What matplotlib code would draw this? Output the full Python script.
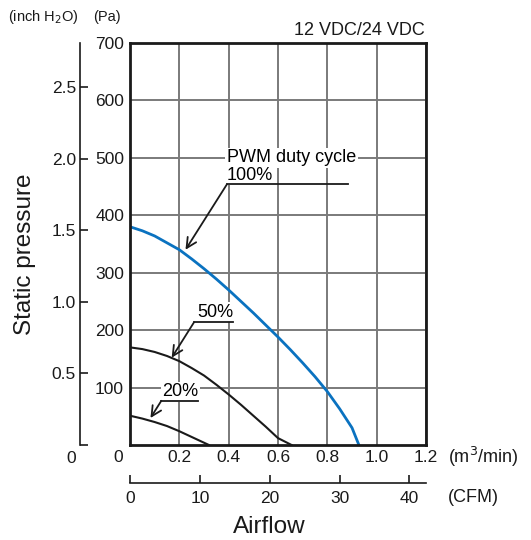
import matplotlib
matplotlib.use("Agg")
import matplotlib.pyplot as plt
import matplotlib.transforms as mtransforms

plt.rcParams['font.family'] = ['Liberation Sans', 'DejaVu Sans']

# Data (airflow m3/min, static pressure Pa)
flow_100 = [0.0, 0.05, 0.1, 0.15, 0.2, 0.25, 0.3, 0.35, 0.4, 0.45, 0.5, 0.55, 0.6,
            0.65, 0.7, 0.75, 0.8, 0.85, 0.9, 0.928]
pres_100 = [380, 373, 364, 352, 340, 324, 307, 289, 270, 250, 230, 209, 188,
            166, 143, 119, 93, 63, 30, 0]
flow_50 = [0.0, 0.05, 0.1, 0.15, 0.2, 0.25, 0.3, 0.35, 0.4, 0.45, 0.5, 0.55, 0.6, 0.655]
pres_50 = [170, 167, 162, 155, 146, 134, 121, 105, 88, 70, 51, 32, 12, 0]
flow_20 = [0.0, 0.05, 0.1, 0.15, 0.2, 0.25, 0.3, 0.32]
pres_20 = [51, 46, 40, 33, 24, 14, 4, 0]

x_ticks = [0.2, 0.4, 0.6, 0.8, 1.0, 1.2]
pa_ticks = [100, 200, 300, 400, 500, 600, 700]
inch_ticks = [0.0, 0.5, 1.0, 1.5, 2.0, 2.5]
cfm_ticks = [0, 10, 20, 30, 40]

PA_PER_INCH = 249.089
M3MIN_PER_CFM = 0.0283168

W, H = 531, 540
PX = 72 / 100  # points per pixel at dpi 100
fig = plt.figure(figsize=(W/100, H/100), dpi=100)
ax = fig.add_axes([130/W, 95/H, 296/W, 402/H])
ax.set_xlim(0, 1.2)
ax.set_ylim(0, 700)

grid_c = '#7a7a7a'
ink = '#1a1a1a'
ax.set_xticks([0.0] + x_ticks)
ax.set_xticklabels(['0'] + [f'{v:.1f}' for v in x_ticks])
ax.set_yticks(pa_ticks)
ax.set_yticklabels([str(v) for v in pa_ticks])
ax.grid(True, color=grid_c, linewidth=1.4)
ax.tick_params(axis='both', length=0, labelsize=12.5, colors=ink)
ax.tick_params(axis='x', pad=5 * PX)
ax.tick_params(axis='y', pad=6 * PX)
for s in ax.spines.values():
    s.set_linewidth(2.0)
    s.set_color(ink)
    s.set_zorder(5)

# shift x "0" label left
lbl0 = ax.get_xticklabels()[0]
lbl0.set_transform(lbl0.get_transform() + mtransforms.ScaledTranslation(-12/100, 0, fig.dpi_scale_trans))

# curves
ax.plot(flow_100, pres_100, color='#0a72c0', linewidth=2.0, zorder=4)
ax.plot(flow_50, pres_50, color=ink, linewidth=1.5, zorder=4)
ax.plot(flow_20, pres_20, color=ink, linewidth=1.5, zorder=4)

# annotations
bbox = dict(facecolor='white', edgecolor='none', pad=1.0)
arrow = dict(arrowstyle='->', color=ink, lw=1.3, mutation_scale=18, shrinkA=0, shrinkB=0)
ax.text(0.393, 500, 'PWM duty cycle', fontsize=13, ha='left', va='center', bbox=bbox, zorder=3)
ax.text(0.393, 470, '100%', fontsize=13, ha='left', va='center', bbox=bbox, zorder=3)
ax.plot([0.393, 0.884], [454, 454], color=ink, linewidth=1.3, zorder=4)
ax.annotate('', xy=(0.225, 340), xytext=(0.393, 454), arrowprops=arrow, zorder=4)

ax.text(0.345, 231, '50%', fontsize=13, ha='center', va='center', bbox=bbox, zorder=3)
ax.plot([0.26, 0.417], [214, 214], color=ink, linewidth=1.3, zorder=4)
ax.annotate('', xy=(0.169, 152), xytext=(0.26, 214), arrowprops=arrow, zorder=4)

ax.text(0.204, 93, '20%', fontsize=13, ha='center', va='center', bbox=bbox, zorder=3)
ax.plot([0.127, 0.277], [77, 77], color=ink, linewidth=1.3, zorder=4)
ax.annotate('', xy=(0.083, 47), xytext=(0.127, 77), arrowprops=arrow, zorder=4)

# inch H2O secondary axis
sy = ax.secondary_yaxis('left', functions=(lambda p: p / PA_PER_INCH, lambda i: i * PA_PER_INCH))
sy.spines['left'].set_position(('outward', 50 * PX))
sy.spines['left'].set_linewidth(1.2)
sy.spines['left'].set_color(ink)
sy.spines['left'].set_bounds(0, 700 / PA_PER_INCH)
sy.set_yticks(inch_ticks)
sy.set_yticklabels(['0'] + [f'{v:.1f}' for v in inch_ticks[1:]])
sy.tick_params(axis='y', direction='in', length=8 * PX, width=1.2, labelsize=12.5,
               pad=4 * PX, color=ink, labelcolor=ink)
l0 = sy.get_yticklabels()[0]
l0.set_transform(l0.get_transform() + mtransforms.ScaledTranslation(0, -12/100, fig.dpi_scale_trans))

# CFM secondary axis
sx = ax.secondary_xaxis('bottom', functions=(lambda m: m / M3MIN_PER_CFM, lambda c: c * M3MIN_PER_CFM))
sx.spines['bottom'].set_position(('outward', 38 * PX))
sx.spines['bottom'].set_linewidth(1.2)
sx.spines['bottom'].set_color(ink)
sx.set_xticks(cfm_ticks)
sx.set_xticklabels([str(v) for v in cfm_ticks])
sx.tick_params(axis='x', direction='in', length=8 * PX, width=1.2, labelsize=12.5,
               pad=8 * PX, color=ink, labelcolor=ink)

# labels
fig.text(8/W, 1 - 17/H, '(inch H$_2$O)', fontsize=10.5, ha='left', va='center', color=ink)
fig.text(93/W, 1 - 17/H, '(Pa)', fontsize=10.5, ha='left', va='center', color=ink)
fig.text(425/W, 1 - 31/H, '12 VDC/24 VDC', fontsize=13, ha='right', va='center', color=ink)
fig.text(448/W, 1 - 457/H, '(m$^3$/min)', fontsize=13, ha='left', va='center', color=ink)
fig.text(448/W, 1 - 498/H, '(CFM)', fontsize=13, ha='left', va='center', color=ink)
fig.text(269/W, 1 - 527/H, 'Airflow', fontsize=17.5, ha='center', va='center', color=ink)
fig.text(25/W, 1 - 254/H, 'Static pressure', fontsize=17.5, ha='center', va='center',
         rotation=90, color=ink)

fig.savefig('out.png', dpi=100)
